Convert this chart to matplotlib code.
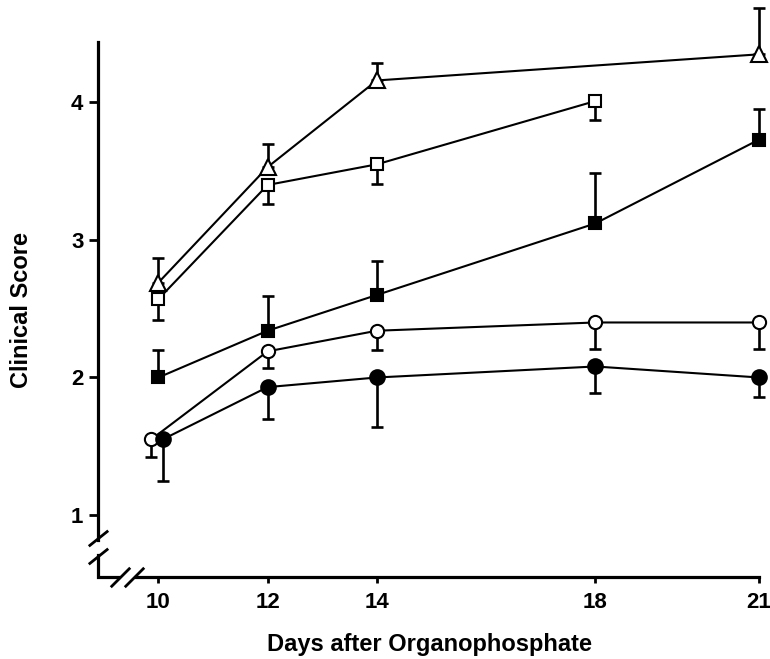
import numpy as np
import matplotlib.pyplot as plt
from matplotlib.path import Path

plt.rcParams['font.family'] = ['Liberation Sans', 'DejaVu Sans']
plt.rcParams['font.weight'] = 'bold'

# x tick labels
day_ticks = [10, 12, 14, 18, 21]
score_ticks = [1, 2, 3, 4]

# open triangles (no point at day 18), upper error
tri_days = [10, 12, 14, 21]
tri_mean = [2.69, 3.53, 4.16, 4.35]
tri_err = [0.18, 0.17, 0.13, 0.34]

# open squares (stop at day 18), lower error
osq_days = [10, 12, 14, 18]
osq_mean = [2.57, 3.40, 3.55, 4.01]
osq_err = [0.15, 0.14, 0.14, 0.14]

# filled squares, upper error
fsq_days = [10, 12, 14, 18, 21]
fsq_mean = [2.00, 2.34, 2.60, 3.12, 3.73]
fsq_err = [0.20, 0.25, 0.25, 0.37, 0.22]

# open circles, lower error (day 10 point drawn slightly left)
oci_days = [9.87, 12, 14, 18, 21]
oci_mean = [1.55, 2.19, 2.34, 2.40, 2.40]
oci_err = [0.13, 0.12, 0.14, 0.19, 0.19]

# filled circles, lower error (day 10 point drawn slightly right)
fci_days = [10.08, 12, 14, 18, 21]
fci_mean = [1.55, 1.93, 2.00, 2.08, 2.00]
fci_err = [0.30, 0.23, 0.36, 0.19, 0.14]

fig = plt.figure(figsize=(7.7, 6.59), dpi=100)
ax = fig.add_axes([0.1273, 0.1244, 0.8727, 0.8756])

x0, x1 = 8.894, 21.2
y0, y1 = 0.549, 4.745
ax.set_xlim(x0, x1)
ax.set_ylim(y0, y1)

lw = 1.5
series = [
    (tri_days, tri_mean, tri_err, 'up', '^', 'white', 11),
    (osq_days, osq_mean, osq_err, 'down', 's', 'white', 9),
    (fsq_days, fsq_mean, fsq_err, 'up', 's', 'black', 9),
    (oci_days, oci_mean, oci_err, 'down', 'o', 'white', 9.5),
    (fci_days, fci_mean, fci_err, 'down', 'o', 'black', 10.5),
]

for d, m, e, side, mk, fc, ms in series:
    e = np.array(e)
    zeros = np.zeros_like(e)
    yerr = [zeros, e] if side == 'up' else [e, zeros]
    ax.errorbar(d, m, yerr=yerr, fmt='none', ecolor='black', elinewidth=1.9,
                capsize=4.3, capthick=1.9, clip_on=False, zorder=2)
    ax.plot(d, m, color='black', lw=lw, marker=mk, ms=ms, mfc=fc, mec='black',
            mew=1.5, clip_on=False, zorder=3)

# axes with breaks
spw = 2.3
for s in ['top', 'right']:
    ax.spines[s].set_visible(False)
ax.spines['left'].set_linewidth(spw)
ax.spines['bottom'].set_linewidth(spw)
ax.spines['left'].set_bounds(0.82, 4.44)
ax.spines['bottom'].set_bounds(9.59, 21)
ax.plot([x0, x0, 9.26], [0.71, y0, y0], color='black', lw=spw,
        clip_on=False, solid_joinstyle='miter')

slash = Path([(-1, -0.8), (1, 0.8)])
ax.plot([x0, x0], [0.833, 0.70], ls='none', marker=slash, ms=14, mew=2,
        color='black', clip_on=False)
slash2 = Path([(-1, -1), (1, 1)])
ax.plot([9.30, 9.55], [y0, y0], ls='none', marker=slash2, ms=14, mew=2,
        color='black', clip_on=False)

ax.set_xticks(day_ticks)
ax.set_xticklabels([str(t) for t in day_ticks])
ax.set_yticks(score_ticks)
ax.set_yticklabels([str(t) for t in score_ticks])
ax.tick_params(axis='x', direction='out', length=4.5, width=2, pad=6,
               labelsize=16)
ax.tick_params(axis='y', direction='out', length=6.5, width=2, pad=4,
               labelsize=16)

ax.set_xlabel('Days after Organophosphate', fontsize=17, fontweight='bold')
ax.set_ylabel('Clinical Score', fontsize=17, fontweight='bold')
ax.xaxis.set_label_coords(0.494, -0.097)
ax.yaxis.set_label_coords(-0.097, 0.463)

fig.savefig('out.png', dpi=100)
